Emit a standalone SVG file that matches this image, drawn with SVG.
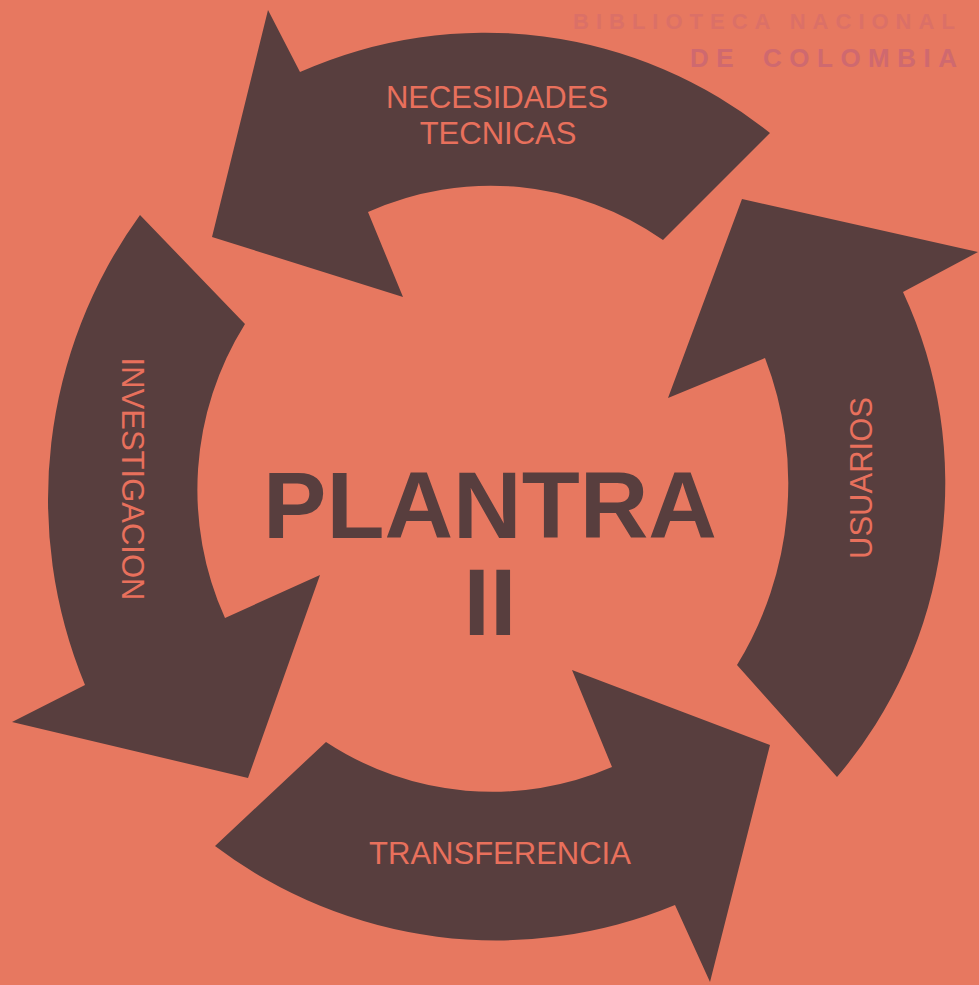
<svg xmlns="http://www.w3.org/2000/svg" width="979" height="985" viewBox="0 0 979 985">
  <style>
    .arrow { fill: #583e3e; }
    .label { fill: #e8705c; font-family: "Liberation Sans", Arial, sans-serif; font-size: 31px; text-anchor: middle; }
    .title { fill: #583e3e; font-family: "Liberation Sans", Arial, sans-serif; font-weight: bold; text-anchor: middle; }
    .stamp { fill: #c0607a; font-family: "Liberation Sans", Arial, sans-serif; font-weight: bold; }
  </style>
  <rect x="0" y="0" width="979" height="985" fill="#e77860"/>

  <g id="stamp">
    <text class="stamp" x="573" y="29" font-size="22" letter-spacing="7" opacity="0.3">BIBLIOTECA NACIONAL</text>
    <text class="stamp" x="690" y="67" font-size="26" letter-spacing="7.5" opacity="0.6">DE</text>
    <text class="stamp" x="763" y="67" font-size="26" letter-spacing="7.5" opacity="0.6">COLOMBIA</text>
  </g>

  <g id="connectors">
    <path id="arrow-necesidades" class="arrow" d="M 212 237 L 268 10 L 300 72 A 455 455 0 0 1 770 133 L 663 240 A 300 300 0 0 0 368 212 L 403 297 Z"/>
    <path id="arrow-usuarios" class="arrow" d="M 742 199 L 978 252 L 903 292 A 453 453 0 0 1 837 777 L 737 665 A 348 348 0 0 0 765 358 L 668 398 Z"/>
    <path id="arrow-investigacion" class="arrow" d="M 140 215 A 485 485 0 0 0 85 685 L 12 722 L 248 778 L 320 575 L 225 618 A 312 312 0 0 1 245 324 Z"/>
    <path id="arrow-transferencia" class="arrow" d="M 215 846 L 326 742 A 302 302 0 0 0 612 767 L 572 670 L 770 745 L 710 982 L 675 905 A 467 467 0 0 1 215 846 Z"/>
  </g>

  <g id="node-necesidades">
    <text class="label" x="497" y="108">NECESIDADES</text>
    <text class="label" x="498" y="144">TECNICAS</text>
  </g>
  <g id="node-usuarios">
    <text class="label" transform="translate(872 478) rotate(-90)" x="0" y="0">USUARIOS</text>
  </g>
  <g id="node-investigacion">
    <text class="label" transform="translate(122 479) rotate(90)" x="0" y="0">INVESTIGACION</text>
  </g>
  <g id="node-transferencia">
    <text class="label" x="500" y="864">TRANSFERENCIA</text>
  </g>
  <g id="node-plantra">
    <text class="title" x="490" y="538" font-size="95">PLANTRA</text>
    <text class="title" x="490" y="635" font-size="95">II</text>
  </g>
</svg>
